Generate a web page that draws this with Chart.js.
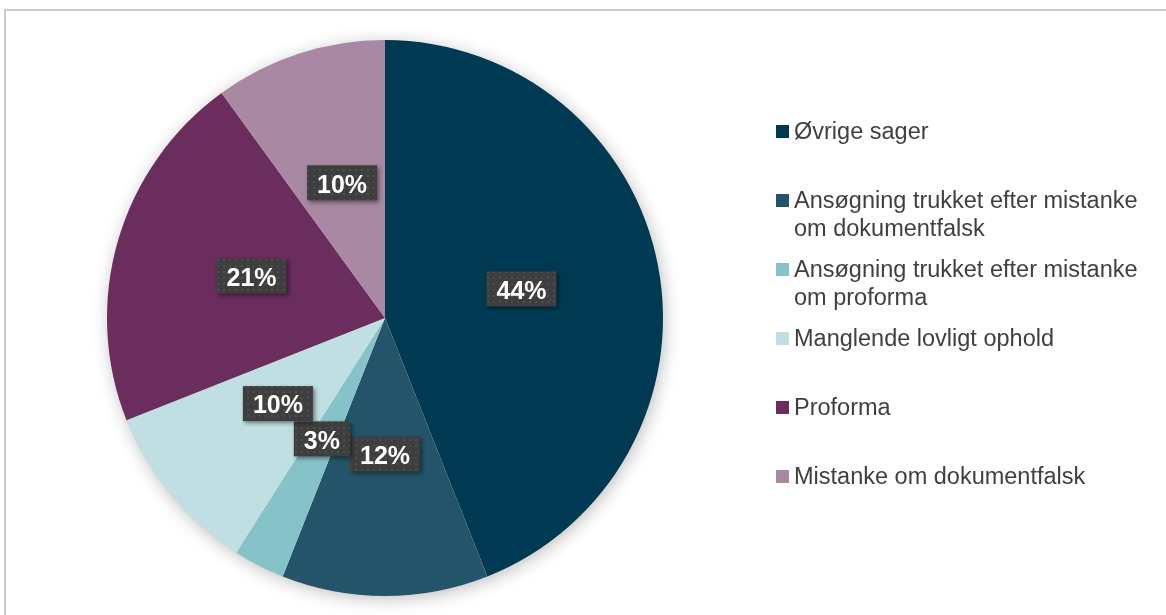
<!DOCTYPE html>
<html>
<head>
<meta charset="utf-8">
<script src="https://cdn.jsdelivr.net/npm/chart.js@4.4.1/dist/chart.umd.min.js"></script>
<style>
    html, body { margin: 0; padding: 0; background: #fff; overflow: hidden; }
    #wrap { position: relative; width: 1166px; height: 615px; }
    #frame { position: absolute; left: 4px; top: 9px; width: 1200px; height: 700px; border: 2px solid #c9c9c9; }
    #pie { position: absolute; left: 0; top: 0; }
    #legend { position: absolute; left: 776px; top: 117px; width: 380px; font-family: "Liberation Sans", Arial, sans-serif; font-size: 23.5px; color: #404040; }
    .item { position: relative; height: 69px; padding-left: 18px; line-height: 28px; }
    .box { position: absolute; left: 0; top: 8px; width: 13px; height: 13px; }
</style>
</head>
<body>
<div id="wrap">
    <div id="frame"></div>
    <canvas id="pie" width="1166" height="615"></canvas>
    <div id="legend"></div>
</div>
<script>
const categories = [
    "Øvrige sager",
    "Ansøgning trukket efter mistanke om dokumentfalsk",
    "Ansøgning trukket efter mistanke om proforma",
    "Manglende lovligt ophold",
    "Proforma",
    "Mistanke om dokumentfalsk"
];
const shares = [44, 12, 3, 10, 21, 10];
const colors = ["#003a52", "#24546a", "#86c3c9", "#bfdfe3", "#6a2d5e", "#a888a2"];

// legend built by hand so long names wrap like the original
const legendEl = document.getElementById("legend");
categories.forEach((name, i) => {
    const row = document.createElement("div");
    row.className = "item";
    row.innerHTML = `<span class="box" style="background:${colors[i]}"></span>${name}`;
    legendEl.appendChild(row);
});

// dotted dark fill for the value boxes
function dotPattern(ctx) {
    const c = document.createElement("canvas");
    c.width = 6; c.height = 6;
    const p = c.getContext("2d");
    p.fillStyle = "#3e3e3e";
    p.fillRect(0, 0, 6, 6);
    p.fillStyle = "#4e4e4e";
    p.fillRect(1, 1, 2, 2);
    return ctx.createPattern(c, "repeat");
}

const pieShadow = {
    id: "pieShadow",
    beforeDatasetsDraw(chart) {
        const arc = chart.getDatasetMeta(0).data[0];
        if (!arc) return;
        const ctx = chart.ctx;
        ctx.save();
        ctx.shadowColor = "rgba(0,0,0,0.28)";
        ctx.shadowBlur = 18;
        ctx.shadowOffsetX = 2;
        ctx.shadowOffsetY = 3;
        ctx.fillStyle = "#ffffff";
        ctx.beginPath();
        ctx.arc(arc.x, arc.y, arc.outerRadius - 1, 0, Math.PI * 2);
        ctx.fill();
        ctx.restore();
    }
};

const valueBoxes = {
    id: "valueBoxes",
    afterDatasetsDraw(chart) {
        const ctx = chart.ctx;
        const fill = dotPattern(ctx);
        const font = "bold 25px 'Liberation Sans', Arial, sans-serif";
        chart.getDatasetMeta(0).data.forEach((arc, i) => {
            const pos = arc.tooltipPosition();
            const txt = shares[i] + "%";
            ctx.save();
            ctx.font = font;
            const w = ctx.measureText(txt).width + 20;
            const h = 35;
            ctx.shadowColor = "rgba(0,0,0,0.45)";
            ctx.shadowBlur = 4;
            ctx.shadowOffsetX = 2;
            ctx.shadowOffsetY = 2;
            ctx.fillStyle = fill;
            ctx.fillRect(pos.x - w / 2, pos.y - 3 - h / 2, w, h);
            ctx.restore();
            ctx.save();
            ctx.font = font;
            ctx.fillStyle = "#ffffff";
            ctx.textAlign = "center";
            ctx.textBaseline = "middle";
            ctx.fillText(txt, pos.x, pos.y);
            ctx.restore();
        });
    }
};

new Chart(document.getElementById("pie").getContext("2d"), {
    type: "pie",
    data: {
        labels: categories,
        datasets: [{
            data: shares,
            backgroundColor: colors,
            borderWidth: 0
        }]
    },
    options: {
        responsive: false,
        animation: false,
        layout: { padding: { left: 107, right: 503, top: 40, bottom: 19 } },
        plugins: {
            legend: { display: false },
            tooltip: { enabled: false }
        }
    },
    plugins: [pieShadow, valueBoxes]
});
</script>
</body>
</html>
